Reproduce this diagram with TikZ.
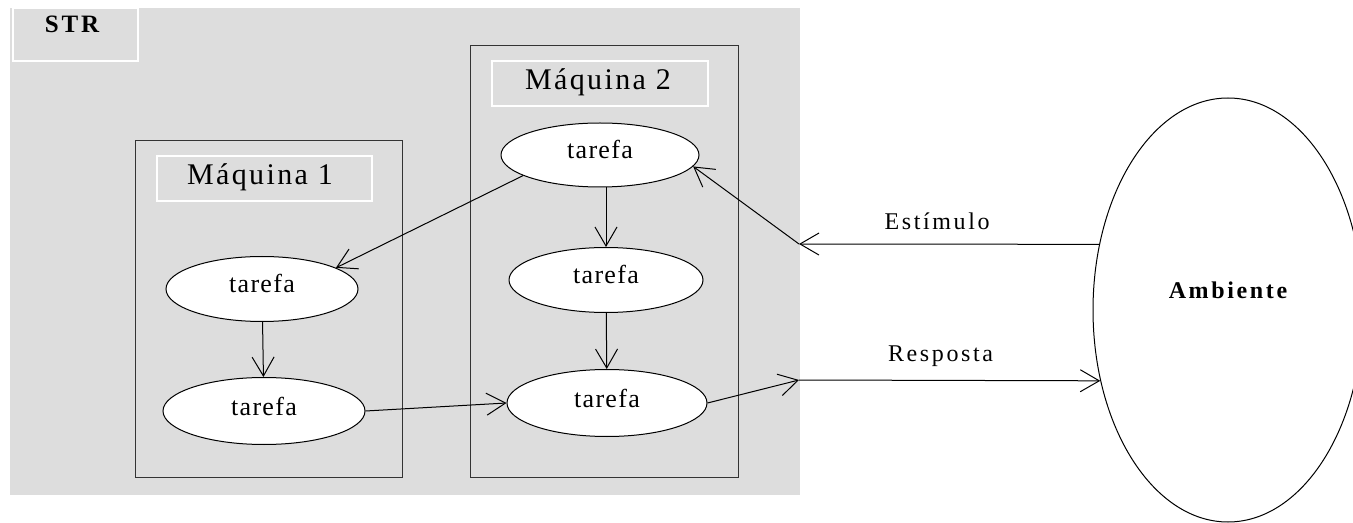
\documentclass[tikz,border=0pt]{standalone}
\usepackage{fontspec}
\setmainfont{Liberation Serif}
\newfontfamily\tarefafont[LetterSpace=5]{Liberation Serif}
\newfontfamily\maqfont[LetterSpace=8]{Liberation Serif}
\newfontfamily\sinalfont[LetterSpace=11]{Liberation Serif}
\usetikzlibrary{shapes.geometric,arrows.meta}
\definecolor{strgray}{HTML}{DDDDDD}
\tikzset{
  tarefa/.style={ellipse,draw,fill=white,line width=0.5pt,inner sep=0pt,
    text height=6pt,text depth=2pt,font=\tarefafont\fontsize{13}{15}\selectfont},
  maquina/.style={draw=black!80,line width=0.5pt},
  titulo/.style={draw=white,line width=0.6pt},
  seta/.style={-{Straight Barb[length=9.5pt,width=11pt]},line width=0.5pt},
  sinal/.style={anchor=base,inner sep=0pt,font=\sinalfont\fontsize{12}{14}\selectfont}
}
\begin{document}
\begin{tikzpicture}[x=0.5pt,y=-0.5pt]
  \clip (0,0) rectangle (1353,523);
  % STR
  \fill[strgray] (10,8) rectangle (800,495);
  \draw[titulo] (13,8) rectangle (138,61);
  \node[anchor=base,font=\sinalfont\bfseries\fontsize{12.5}{14}\selectfont] (str) at (72,33) {STR};
  % maquinas
  \draw[maquina] (135,141) rectangle (402,477);
  \draw[titulo] (157,156) rectangle (372,201);
  \node[anchor=base,font=\maqfont\fontsize{15}{18}\selectfont] (m1) at (260,185) {Máquina 1};
  \draw[maquina] (470,46) rectangle (738,477);
  \draw[titulo] (492,61) rectangle (708,106);
  \node[anchor=base,font=\maqfont\fontsize{15}{18}\selectfont] (m2) at (598,90) {Máquina 2};
  % tarefas e ambiente
  \draw
    (262,289) node[tarefa,minimum width=96pt,minimum height=32.5pt] (t1a){tarefa}
    (264,411) node[tarefa,minimum width=101pt,minimum height=33.5pt] (t1b){tarefa}
    (600,155) node[tarefa,minimum width=99pt,minimum height=32pt] (t2a){tarefa}
    (606,280) node[tarefa,minimum width=97pt,minimum height=32.5pt] (t2b){tarefa}
    (607,403) node[tarefa,minimum width=100pt,minimum height=33.5pt] (t2c){tarefa}
    (1228,310) node[ellipse,draw,fill=white,line width=0.5pt,minimum width=135pt,minimum height=212pt,
      label={[font=\sinalfont\bfseries\fontsize{12}{14}\selectfont,yshift=10pt]center:Ambiente}] (amb){};
  \coordinate (stim) at (799,244);
  \coordinate (resp) at (799,380);
  \begin{scope}[seta]
    \draw (t2a.195) to (t1a.16);
    \draw (t1a) to (t1b);
    \draw (t1b.east) to (t2c.west);
    \draw (t2a.south -| t2b) to (t2b);
    \draw (t2b) to (t2c);
    \draw (t2c.east) to (resp);
    \draw (resp) to node[sinal,pos=0.47,yshift=9.5pt] {Resposta} (amb.209);
    \draw (amb.153) to node[sinal,pos=0.54,yshift=7.5pt] {Estímulo} (stim);
    \draw (stim) to (t2a.353);
  \end{scope}
\end{tikzpicture}
\end{document}
